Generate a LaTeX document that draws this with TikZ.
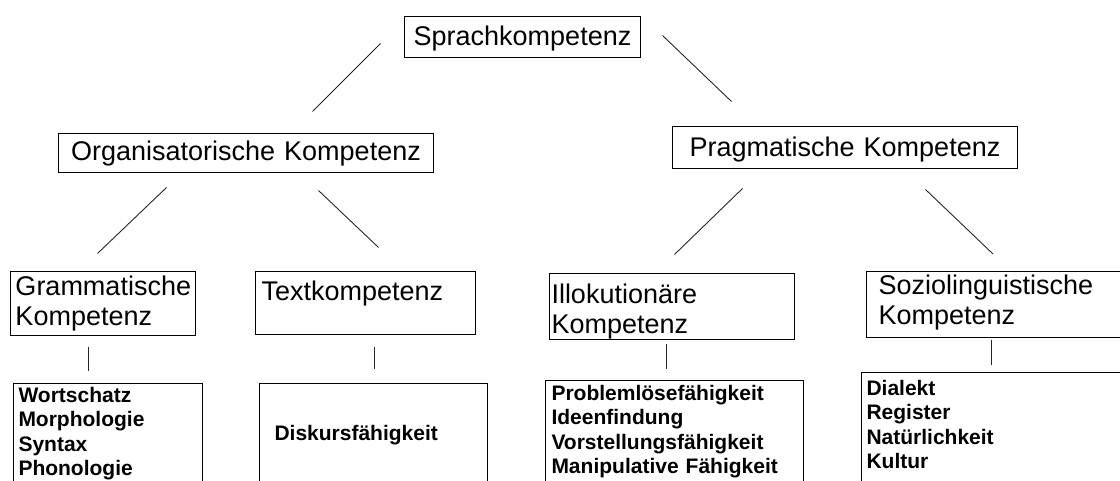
\documentclass[tikz,border=0pt]{standalone}
\usepackage{fontspec}
\setmainfont{Liberation Sans}
\usepackage{tikz}
\tikzstyle{block} = [rectangle, draw, line width=1pt, anchor=north west, inner ysep=0pt, font=\fontsize{27}{30}\selectfont]
\tikzstyle{head} = [block, align=center, inner xsep=4pt]
\tikzstyle{sub} = [block, align=left]
\tikzstyle{list} = [block, align=left, font=\fontsize{21}{24.3}\selectfont\bfseries]
\tikzstyle{link} = [line width=0.9pt, black!85]

\begin{document}
\begin{tikzpicture}[x=1pt, y=-1pt]
    \clip (0,0) rectangle (1120,481);

    % top levels
    \node (sprach) [head, text width=228pt, text height=29pt, text depth=12pt] at (404,16) {Sprachkompetenz};
    \node (org)    [head, text width=367pt, text height=27pt, text depth=12pt] at (58,133) {Organisatorische Kompetenz};
    \node (prag)   [head, text width=337pt, text height=30pt, text depth=12pt] at (672,126) {Pragmatische Kompetenz};

    % third level
    \node (gram)  [sub, inner xsep=5pt,  text width=175pt, text height=24pt, text depth=40pt] at (10,271) {Grammatische\\Kompetenz};
    \node (text)  [sub, inner xsep=6pt,  text width=208pt, text height=29pt, text depth=34pt] at (255,271) {Textkompetenz};
    \node (illok) [sub, inner xsep=2pt,  text width=241pt, text height=30pt, text depth=36pt] at (549,273) {Illokutionäre\\Kompetenz};
    \node (sozio) [sub, inner xsep=12pt, text width=280pt, text height=23pt, text depth=43pt] at (866,271) {Soziolinguistische\\Kompetenz};

    % lists
    \node (wort)    [list, inner xsep=5pt,  text width=179pt, text height=19pt, text depth=110pt] at (13,383) {Wortschatz\\Morphologie\\Syntax\\Phonologie};
    \node (diskurs) [list, inner xsep=15pt, text width=198pt, text height=57pt, text depth=80pt] at (259,383) {Diskursfähigkeit};
    \node (problem) [list, inner xsep=6pt,  text width=246pt, text height=20pt, text depth=110pt] at (545,380) {Problemlösefähigkeit\\Ideenfindung\\Vorstellungsfähigkeit\\Manipulative Fähigkeit};
    \node (dialekt) [list, inner xsep=5pt,  text width=300pt, text height=23pt, text depth=120pt] at (861,372) {Dialekt\\Register\\Natürlichkeit\\Kultur};

    \draw [link] ([shift={(-23.5,6.5)}]sprach.west) -- ([shift={(66.5,-21.5)}]org.north);
    \draw [link] ([shift={(21.5,-1.5)}]sprach.east) -- ([shift={(-113.5,-24.5)}]prag.north);
    \draw [link] ([shift={(-79.5,14.5)}]org.south) -- ([shift={(-5.5,-17.5)}]gram.north);
    \draw [link] ([shift={(72.5,17.5)}]org.south) -- ([shift={(13,-23.5)}]text.north);
    \draw [link] ([shift={(-102.5,19.5)}]prag.south) -- ([shift={(2.5,-18.5)}]illok.north);
    \draw [link] ([shift={(80.5,20.5)}]prag.south) -- ([shift={(127,-17)}]sozio.north west);
    \draw [link] ([shift={(-14.5,10.5)}]gram.south) -- ([shift={(-19.5,-12.5)}]wort.north);
    \draw [link] ([shift={(9,11.5)}]text.south) -- ([shift={(1,-14.5)}]diskurs.north);
    \draw [link] ([shift={(-5.5,3.5)}]illok.south) -- ([shift={(-8,-11.5)}]problem.north);
    \draw [link] ([shift={(125,1.5)}]sozio.south west) -- ([shift={(130,-7)}]dialekt.north west);
\end{tikzpicture}
\end{document}
